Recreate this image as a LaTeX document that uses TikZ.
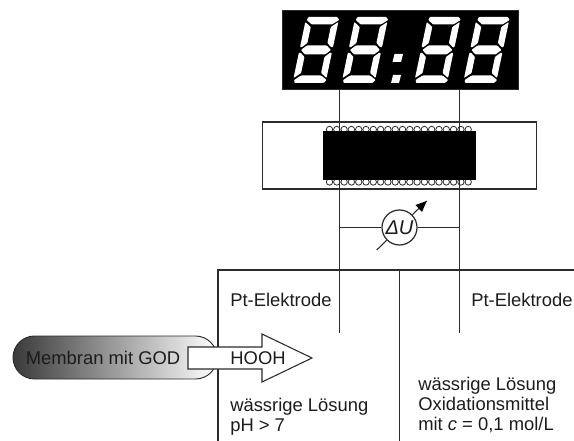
\documentclass[tikz,border=0pt]{standalone}
\usepackage{fontspec}
\setmainfont{Liberation Sans}
\usepackage{tikz}
\usepackage{xcolor}
\usetikzlibrary{positioning, shapes.misc, calc}
\definecolor{cWire}{HTML}{2B2B2B}
\definecolor{cText}{HTML}{1C1C1C}
\definecolor{cMembrane}{HTML}{3A3A3A}
\tikzset{
  wire/.style={draw=cWire, line width=1pt},
  label/.style={font=\fontsize{13.8}{15}\selectfont, text=cText, inner sep=0pt, anchor=west, align=left},
  segment/.style={fill=white, rounded corners=0.6pt},
}
\begin{document}
\begin{tikzpicture}[x=0.75pt, y=-0.75pt]
        \useasboundingbox (0,0) rectangle (574,441);
        \coordinate (elL) at (339.5,333);
        \coordinate (elR) at (459.5,333);
        \coordinate (tankL) at (218,270);
        \coordinate (tankR) at (574,270);
        \coordinate (tankB) at (218,441);
        \coordinate (tankM) at (399.5,270);
        \coordinate (divB) at (399.5,441);
        % display
        \node[fill=black, draw=cWire, line width=0.5pt, minimum width=177pt, minimum height=59.25pt, inner sep=0pt]
              (display) at (400,50) {};
        \foreach \dx in {293,342,414.5,463.5}{
          \begin{scope}[shift={(\dx,83)}, xslant=0.21]
            \fill[segment] (1.5,-66) -- (30.5,-66) -- (33,-63) -- (26.5,-58.5) -- (6.5,-58.5) -- (0.5,-63) -- cycle;
            \fill[segment] (1,-33) -- (6,-37.5) -- (26,-37.5) -- (31,-33) -- (26,-28.5) -- (6,-28.5) -- cycle;
            \fill[segment] (1.5,0) -- (30.5,0) -- (33,-3) -- (26.5,-7.5) -- (6.5,-7.5) -- (0.5,-3) -- cycle;
            \foreach \ux/\sx in {-0.5/1,32.5/-1}{
              \fill[segment] (\ux,-61) -- (\ux+\sx*6.5,-56) -- (\ux+\sx*6.5,-40) -- (\ux+\sx*1.5,-35.5) -- (\ux,-36) -- cycle;
              \fill[segment] (\ux,-30) -- (\ux+\sx*1.5,-30.5) -- (\ux+\sx*6.5,-26) -- (\ux+\sx*6.5,-10) -- (\ux,-5) -- cycle;
            }
          \end{scope}
        }
        \fill[white] (394.5,54) -- (403,54) -- (401,62) -- (392.5,62) -- cycle;
        \fill[white] (393,75) -- (401,75) -- (399,83) -- (391,83) -- cycle;
        % chip on carrier
        \node[draw=cWire, line width=1pt, fill=white, minimum width=205.5pt, minimum height=50.25pt, inner sep=0pt]
              (carrier) at (399.5,155.5) {};
        \foreach \i in {0,...,19}{
          \draw[cWire, line width=0.6pt, fill=white] (329.5+7.3*\i,129.5) circle (3.2);
          \draw[cWire, line width=0.6pt, fill=white] (329.5+7.3*\i,182) circle (3.2);
        }
        % electrodes and tank
        \draw[wire] (elL |- display.south) -- (elL);
        \draw[wire] (elR |- display.south) -- (elR);
        \draw[wire] (tankB) -- (tankL) -- (tankR);
        \draw[wire] (tankM) -- (divB);
        \node[fill=black, minimum width=114.75pt, minimum height=36.75pt, inner sep=0pt]
              (chip) at (399.5,155.5) {};
        % meter
        \node[circle, draw=cWire, line width=0.9pt, fill=white, minimum size=26.25pt, inner sep=0pt,
              font=\fontsize{15}{15}\selectfont\itshape, text=cText]
              (meter) at (399.5,227.5) {ΔU};
        \draw[wire] (meter.west) -- (elL |- meter.west);
        \draw[wire] (meter.east) -- (elR |- meter.east);
        \coordinate (tipA) at (376.7,250);
        \coordinate (tipB) at (426.7,201);
        \draw[wire, line width=0.8pt] (tipA) -- (meter.225);
        \draw[wire, line width=0.8pt] (meter.45) -- (tipB);
        \fill[black] (tipB) -- (415.5,205) -- (422,212) -- cycle;
        % membrane and arrow
        \node[rounded rectangle, draw=cWire, line width=0.7pt, left color=cMembrane, right color=white,
              minimum width=153pt, minimum height=32.25pt, inner sep=0pt]
              (membrane) at (115,357.5) {};
        \node[label, anchor=center] (membranText) at (103,358) {Membran mit GOD};
        \draw[wire, fill=white, line width=0.8pt]
          (188,347) -- (262,347) -- (262,334) -- (312,358) -- (262,382) -- (262,369) -- (188,369) -- cycle;
        \node[label, anchor=center] (hooh) at (258,358) {HOOH};
        % labels
        \node[label] (ptL) at (230,300) {Pt-Elektrode};
        \node[label] (ptR) at (471,300) {Pt-Elektrode};
        \node[label] (solL) at (230,417) {wässrige Lösung\\pH > 7};
        \node[label] (solR) at (418,405.5) {wässrige Lösung\\Oxidationsmittel\\mit \textit{c} = 0,1 mol/L};
      \end{tikzpicture}
\end{document}
